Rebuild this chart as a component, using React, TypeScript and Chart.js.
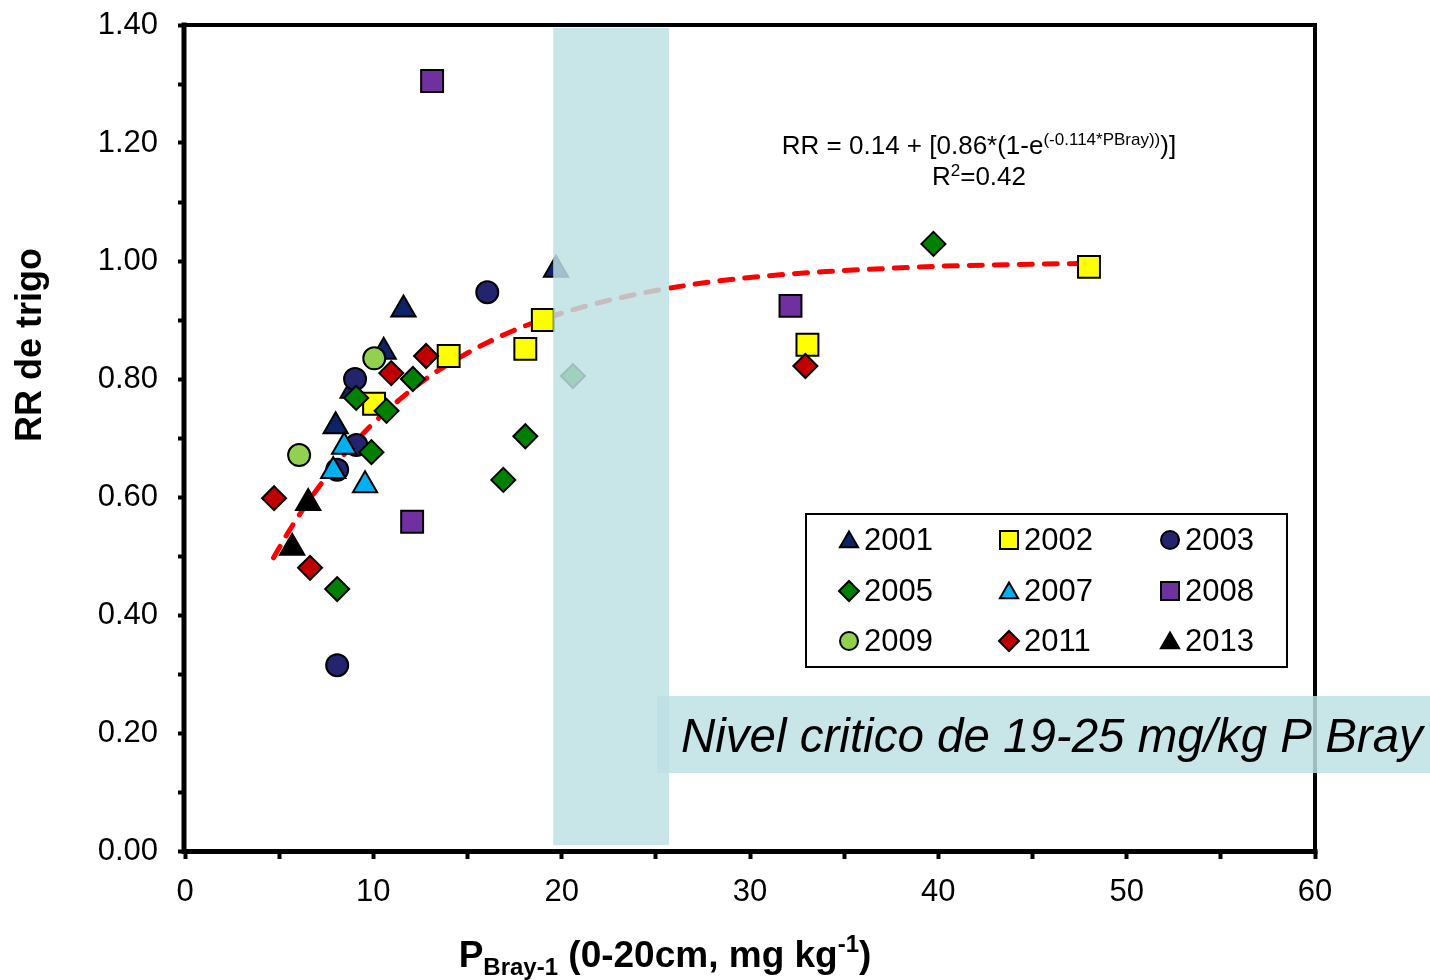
import React, { useEffect, useRef } from 'react';
import { Chart, registerables } from 'chart.js';

Chart.register(...registerables);

// ---------- data ----------
const years = ['2001', '2002', '2003', '2005', '2007', '2008', '2009', '2011', '2013'];

const x2001 = [11.6, 10.55, 8.9, 8.0, 19.7];
const y2001 = [0.918, 0.846, 0.78, 0.72, 0.985];

const x2002 = [14.0, 10.04, 19.0, 18.07, 48.0, 33.05];
const y2002 = [0.839, 0.758, 0.9, 0.851, 0.99, 0.858];

const x2003 = [9.03, 9.1, 8.08, 16.05, 8.08];
const y2003 = [0.8, 0.688, 0.646, 0.947, 0.315];

const x2005 = [12.1, 9.09, 10.7, 9.9, 8.08, 18.07, 16.9, 20.6, 39.74];
const y2005 = [0.8, 0.768, 0.746, 0.676, 0.444, 0.703, 0.629, 0.805, 1.029];

const x2007 = [8.45, 7.87, 9.56];
const y2007 = [0.685, 0.644, 0.62];

const x2008 = [13.12, 12.06, 32.15];
const y2008 = [1.305, 0.558, 0.924];

const x2009 = [10.05, 6.06];
const y2009 = [0.835, 0.671];

const x2011 = [10.95, 12.8, 4.73, 6.64, 32.94];
const y2011 = [0.81, 0.839, 0.598, 0.48, 0.822];

const x2013 = [6.54, 5.69];
const y2013 = [0.59, 0.514];

// fitted curve RR = 0.14 + 0.86*(1-e^(-0.114*P))
const fitX = [4.7, 5.5, 6.5, 7.5, 8.5, 10, 11.5, 13, 15, 17, 19, 21, 23, 25, 28, 31, 34, 37, 40, 44, 48];
const fitY = [0.497, 0.541, 0.59, 0.634, 0.674, 0.725, 0.768, 0.805, 0.844, 0.876, 0.901, 0.921, 0.937, 0.95, 0.965, 0.975, 0.982, 0.987, 0.991, 0.994, 0.996];

// critical band (x range) and its vertical extent
const bandX = [19.55, 25.7];
const bandY = [0.01, 1.395];

const xTicksLabelStep = 10;

const seriesX = [x2001, x2002, x2003, x2005, x2007, x2008, x2009, x2011, x2013];
const seriesY = [y2001, y2002, y2003, y2005, y2007, y2008, y2009, y2011, y2013];

// ---------- styles ----------
const FONT = "'Liberation Sans', Arial, Helvetica, sans-serif";
type Shape = 'triangle' | 'rect' | 'circle' | 'rectRot';
const styles: { color: string; shape: Shape; radius: number }[] = [
  { color: '#0b2468', shape: 'triangle', radius: 14 },
  { color: '#ffff00', shape: 'rect', radius: 15.5 },
  { color: '#23236e', shape: 'circle', radius: 11 },
  { color: '#008000', shape: 'rectRot', radius: 12 },
  { color: '#00b0f0', shape: 'triangle', radius: 14 },
  { color: '#7030a0', shape: 'rect', radius: 15.5 },
  { color: '#92d050', shape: 'circle', radius: 11 },
  { color: '#c00000', shape: 'rectRot', radius: 12 },
  { color: '#000000', shape: 'triangle', radius: 14 },
];

function drawMarker(ctx: CanvasRenderingContext2D, shape: Shape, x: number, y: number, s: number, fill: string) {
  ctx.beginPath();
  if (shape === 'triangle') {
    const r = s;
    ctx.moveTo(x, y - r);
    ctx.lineTo(x + r * 0.866, y + r * 0.5);
    ctx.lineTo(x - r * 0.866, y + r * 0.5);
    ctx.closePath();
  } else if (shape === 'rect') {
    ctx.rect(x - s, y - s, 2 * s, 2 * s);
  } else if (shape === 'circle') {
    ctx.arc(x, y, s, 0, Math.PI * 2);
  } else {
    ctx.moveTo(x, y - s);
    ctx.lineTo(x + s, y);
    ctx.lineTo(x, y + s);
    ctx.lineTo(x - s, y);
    ctx.closePath();
  }
  ctx.fillStyle = fill;
  ctx.fill();
  ctx.lineWidth = 2;
  ctx.strokeStyle = '#000';
  ctx.stroke();
}

const overlayPlugin = {
  id: 'overlay',
  afterDatasetsDraw(chart: any) {
    const { ctx, scales } = chart;
    const l = scales.x.getPixelForValue(bandX[0]);
    const r = scales.x.getPixelForValue(bandX[1]);
    const t = scales.y.getPixelForValue(bandY[1]);
    const b = scales.y.getPixelForValue(bandY[0]);
    ctx.save();
    ctx.fillStyle = 'rgba(190,224,228,0.84)';
    ctx.fillRect(l, t, r - l, b - t);
    ctx.restore();
  },
  afterDraw(chart: any) {
    const { ctx, chartArea } = chart;
    const { left, right, top, bottom } = chartArea;
    ctx.save();
    // frame
    ctx.strokeStyle = '#000';
    ctx.lineCap = 'square';
    ctx.lineWidth = 4;
    ctx.beginPath();
    ctx.moveTo(left - 1, top);
    ctx.lineTo(right, top);
    ctx.lineTo(right, bottom);
    ctx.stroke();
    ctx.lineWidth = 5;
    ctx.beginPath();
    ctx.moveTo(left - 1, top);
    ctx.lineTo(left - 1, bottom + 0.5);
    ctx.lineTo(right, bottom + 0.5);
    ctx.stroke();

    // equation
    ctx.fillStyle = '#000';
    ctx.textBaseline = 'alphabetic';
    const mainF = `26px ${FONT}`;
    const supF = `17px ${FONT}`;
    const p1 = 'RR = 0.14 + [0.86*(1-e';
    const p2 = '(-0.114*PBray))';
    const p3 = ')]';
    ctx.font = mainF;
    const w1 = ctx.measureText(p1).width;
    const w3 = ctx.measureText(p3).width;
    ctx.font = supF;
    const w2 = ctx.measureText(p2).width;
    const cx = 979;
    let sx = cx - (w1 + w2 + w3) / 2;
    ctx.font = mainF;
    ctx.fillText(p1, sx, 154);
    sx += w1;
    ctx.font = supF;
    ctx.fillText(p2, sx, 145);
    sx += w2;
    ctx.font = mainF;
    ctx.fillText(p3, sx, 154);
    // R2
    const q1 = 'R', q2 = '2', q3 = '=0.42';
    ctx.font = mainF;
    const a1 = ctx.measureText(q1).width, a3 = ctx.measureText(q3).width;
    ctx.font = supF;
    const a2 = ctx.measureText(q2).width;
    let rx = cx - (a1 + a2 + a3) / 2;
    ctx.font = mainF;
    ctx.fillText(q1, rx, 185);
    rx += a1;
    ctx.font = supF;
    ctx.fillText(q2, rx, 176);
    rx += a2;
    ctx.font = mainF;
    ctx.fillText(q3, rx, 185);

    // legend box
    ctx.fillStyle = '#fff';
    ctx.fillRect(806, 514, 481, 153);
    ctx.lineWidth = 2;
    ctx.strokeStyle = '#000';
    ctx.strokeRect(806, 514, 481, 153);
    const colMarker = [849, 1009, 1170];
    const rowY = [540, 591, 641];
    const legendSize: Record<Shape, number> = { triangle: 10.5, rect: 9, circle: 9, rectRot: 10 };
    years.forEach((yr, i) => {
      const c = i % 3, rr = Math.floor(i / 3);
      const st = styles[i];
      const my = st.shape === 'triangle' ? rowY[rr] + 2 : rowY[rr];
      drawMarker(ctx, st.shape, colMarker[c], my, legendSize[st.shape], st.color);
      ctx.fillStyle = '#000';
      ctx.font = `31px ${FONT}`;
      ctx.textBaseline = 'middle';
      ctx.textAlign = 'left';
      ctx.fillText(yr, colMarker[c] + 15, rowY[rr] + 1);
    });

    // Nivel critico box
    ctx.fillStyle = 'rgba(190,224,228,0.84)';
    ctx.fillRect(657, 696, 1430 - 657, 77);
    ctx.fillStyle = '#000';
    ctx.font = `italic 47.5px ${FONT}`;
    ctx.textBaseline = 'alphabetic';
    ctx.fillText('Nivel critico de 19-25 mg/kg P Bray', 681, 752);

    // x axis title with sub/superscripts
    const big = `bold 37px ${FONT}`;
    const small = `bold 24px ${FONT}`;
    const parts: [string, string, number][] = [
      ['P', big, 0],
      ['Bray-1', small, 8],
      [' (0-20cm, mg kg', big, 0],
      ['-1', small, -15],
      [')', big, 0],
    ];
    let total = 0;
    parts.forEach(([t, f]) => { ctx.font = f; total += ctx.measureText(t).width; });
    let tx = 665 - total / 2;
    parts.forEach(([t, f, dy]) => {
      ctx.font = f;
      ctx.fillText(t, tx, 967 + dy);
      tx += ctx.measureText(t).width;
    });

    // y axis title
    ctx.save();
    ctx.translate(31, 345);
    ctx.rotate(-Math.PI / 2);
    ctx.font = `bold 36px ${FONT}`;
    ctx.textAlign = 'center';
    ctx.textBaseline = 'middle';
    ctx.fillText('RR de trigo', 0, 0);
    ctx.restore();

    ctx.restore();
  },
};

export default function App() {
  const ref = useRef<HTMLCanvasElement>(null);
  useEffect(() => {
    document.body.style.margin = '0';
    const datasets: any[] = years.map((yr, i) => ({
      type: 'scatter',
      label: yr,
      data: seriesX[i].map((v, j) => ({ x: v, y: seriesY[i][j] })),
      pointStyle: styles[i].shape,
      pointRadius: styles[i].radius,
      pointHoverRadius: styles[i].radius,
      backgroundColor: styles[i].color,
      borderColor: '#000',
      pointBorderWidth: 2,
      showLine: false,
      order: years.length - i,
    }));
    datasets.push({
      type: 'line',
      label: 'fit',
      data: fitX.map((v, j) => ({ x: v, y: fitY[j] })),
      borderColor: '#ff0000',
      borderWidth: 5,
      borderDash: [13, 12],
      borderCapStyle: 'round',
      pointRadius: 0,
      fill: false,
      cubicInterpolationMode: 'monotone',
      order: 100,
    });
    const chart = new Chart(ref.current as HTMLCanvasElement, {
      type: 'scatter',
      data: { datasets },
      options: {
        responsive: false,
        devicePixelRatio: 1,
        animation: false,
        events: [],
        layout: { padding: { left: 0, top: 25, right: 115, bottom: 0 } },
        plugins: { legend: { display: false }, tooltip: { enabled: false } },
        scales: {
          x: {
            type: 'linear',
            min: 0,
            max: 60,
            afterFit: (s: any) => { s.height = 129; s.paddingLeft = 0; s.paddingRight = 0; },
            ticks: {
              stepSize: 5,
              color: '#000',
              font: { family: FONT, size: 31 },
              padding: 15,
              maxRotation: 0,
              autoSkip: false,
              callback: (v: any) => (Math.round(Number(v)) % xTicksLabelStep === 0 ? String(v) : ''),
            },
            grid: { drawOnChartArea: false, drawTicks: true, tickLength: 8, tickWidth: 4, tickColor: '#000', color: '#000' },
            border: { display: false },
          },
          y: {
            type: 'linear',
            min: 0,
            max: 1.4,
            afterFit: (s: any) => { s.width = 185; s.paddingTop = 0; s.paddingBottom = 0; },
            ticks: {
              stepSize: 0.1,
              color: '#000',
              font: { family: FONT, size: 31 },
              padding: 20,
              autoSkip: false,
              callback: (v: any) => {
                const n = Math.round(Number(v) * 10);
                return n % 2 === 0 ? (n / 10).toFixed(2) : '';
              },
            },
            grid: { drawOnChartArea: false, drawTicks: true, tickLength: 7, tickWidth: 4, tickColor: '#000', color: '#000' },
            border: { display: false },
          },
        },
      },
      plugins: [overlayPlugin],
    });
    return () => chart.destroy();
  }, []);
  return (
    <div style={{ position: 'absolute', left: 0, top: 0, width: 1430, height: 980, background: '#fff' }}>
      <canvas ref={ref} width={1430} height={980} style={{ display: 'block', width: 1430, height: 980 }} />
    </div>
  );
}
